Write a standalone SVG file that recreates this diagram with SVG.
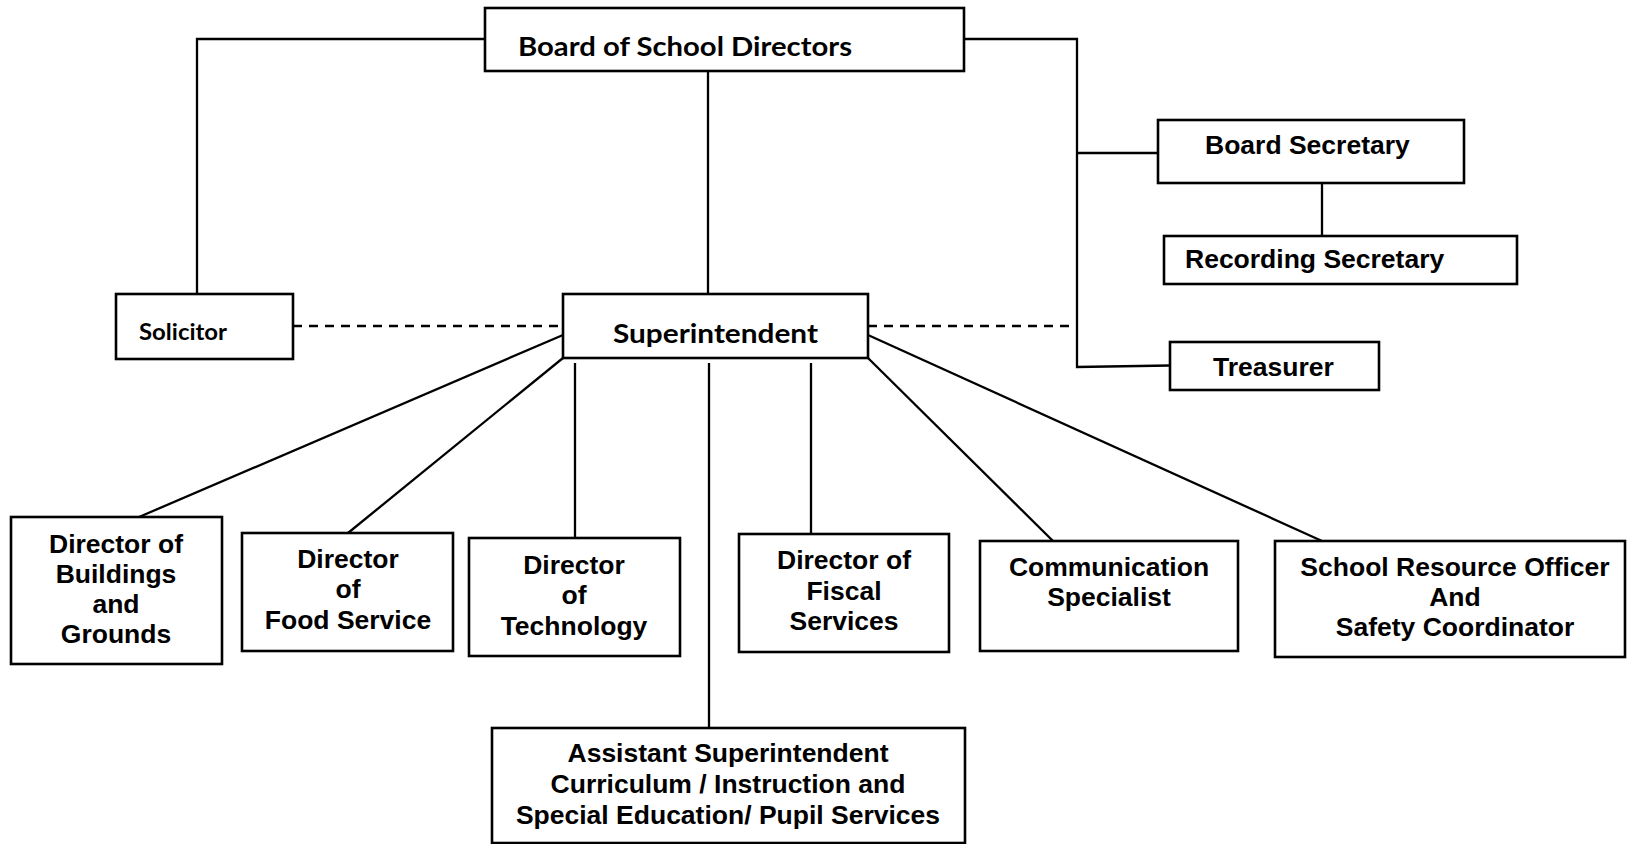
<svg xmlns="http://www.w3.org/2000/svg" width="1627" height="844" viewBox="0 0 1627 844">
<style>
.box{fill:#fff;stroke:#000;stroke-width:2.6}
.ln{fill:none;stroke:#000;stroke-width:2.3}
.dash{fill:none;stroke:#000;stroke-width:2.6;stroke-dasharray:9 7}
.a{font-family:"Liberation Sans",Arial,sans-serif;font-weight:bold;font-size:26.5px;fill:#000}
.m{text-anchor:middle}
.c{font-family:Lato,"Liberation Sans",sans-serif;font-weight:bold;fill:#000}
</style>
<rect width="1627" height="844" fill="#fff"/>
<g id="connectors">
<path class="ln" d="M485,39 H197 V294"/>
<path class="ln" d="M964,39 H1077 V367 L1170,365.5"/>
<path class="ln" d="M1077,153 H1158"/>
<path class="ln" d="M708,71 V294"/>
<path class="ln" d="M1322,183 V236"/>
<path class="dash" d="M293,326 H563"/>
<path class="dash" d="M868,326 H1077"/>
<path class="ln" d="M563,335 L139,517"/>
<path class="ln" d="M563,358 L348,533"/>
<path class="ln" d="M575,363 V538"/>
<path class="ln" d="M709,363 V728"/>
<path class="ln" d="M811,363 V534"/>
<path class="ln" d="M868,358 L1053,541"/>
<path class="ln" d="M868,335 L1322,541"/>
</g>
<g id="board">
<rect class="box" x="485" y="8" width="479" height="63"/>
<text class="c" x="518" y="56" font-size="27.5" textLength="334" lengthAdjust="spacingAndGlyphs">Board of School Directors</text>
</g>
<g id="board-secretary">
<rect class="box" x="1158" y="120" width="306" height="63"/>
<text class="a" x="1205" y="154">Board Secretary</text>
</g>
<g id="recording-secretary">
<rect class="box" x="1164" y="236" width="353" height="48"/>
<text class="a" x="1185" y="268">Recording Secretary</text>
</g>
<g id="treasurer">
<rect class="box" x="1170" y="342" width="209" height="48"/>
<text class="a" x="1213" y="376">Treasurer</text>
</g>
<g id="solicitor">
<rect class="box" x="116" y="294" width="177" height="65"/>
<text class="c" x="139" y="340" font-size="22" textLength="88" lengthAdjust="spacingAndGlyphs">Solicitor</text>
</g>
<g id="superintendent">
<rect class="box" x="563" y="294" width="305" height="64"/>
<text class="c" x="613" y="343" font-size="27" textLength="205" lengthAdjust="spacingAndGlyphs">Superintendent</text>
</g>
<g id="buildings">
<rect class="box" x="11" y="517" width="211" height="147"/>
<text class="a m" x="116" y="553">Director of</text>
<text class="a m" x="116" y="583">Buildings</text>
<text class="a m" x="116" y="613">and</text>
<text class="a m" x="116" y="643">Grounds</text>
</g>
<g id="food">
<rect class="box" x="242" y="533" width="211" height="118"/>
<text class="a m" x="348" y="568">Director</text>
<text class="a m" x="348" y="598">of</text>
<text class="a m" x="348" y="629">Food Service</text>
</g>
<g id="technology">
<rect class="box" x="469" y="538" width="211" height="118"/>
<text class="a m" x="574" y="574">Director</text>
<text class="a m" x="574" y="604">of</text>
<text class="a m" x="574" y="635">Technology</text>
</g>
<g id="fiscal">
<rect class="box" x="739" y="534" width="210" height="118"/>
<text class="a m" x="844" y="569">Director of</text>
<text class="a m" x="844" y="600">Fiscal</text>
<text class="a m" x="844" y="630">Services</text>
</g>
<g id="communication">
<rect class="box" x="980" y="541" width="258" height="110"/>
<text class="a m" x="1109" y="576">Communication</text>
<text class="a m" x="1109" y="606">Specialist</text>
</g>
<g id="sro">
<rect class="box" x="1275" y="541" width="350" height="116"/>
<text class="a m" x="1455" y="576">School Resource Officer</text>
<text class="a m" x="1455" y="606">And</text>
<text class="a m" x="1455" y="636">Safety Coordinator</text>
</g>
<g id="assistant">
<rect class="box" x="492" y="728" width="473" height="115"/>
<text class="a m" x="728" y="762">Assistant Superintendent</text>
<text class="a m" x="728" y="793">Curriculum / Instruction and</text>
<text class="a m" x="728" y="824">Special Education/ Pupil Services</text>
</g>
</svg>
